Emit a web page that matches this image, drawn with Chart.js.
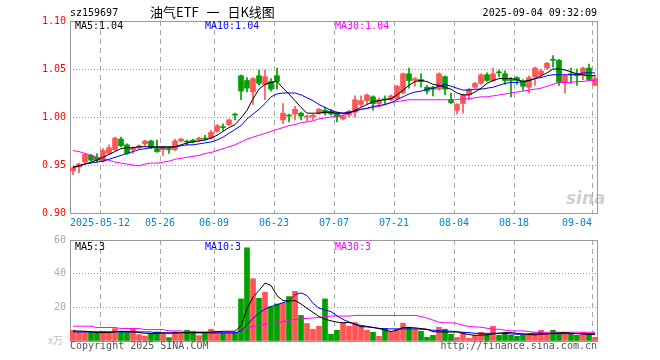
<!DOCTYPE html>
<html>
<head>
<meta charset="utf-8">
<script src="https://cdn.jsdelivr.net/npm/chart.js@4.4.1/dist/chart.umd.min.js"></script>
<style>
  body { margin: 0; background: #fff; width: 660px; height: 360px; position: relative; overflow: hidden; font-family: 'DejaVu Sans Mono', monospace; }
  .txt { position: absolute; font-size: 10px; line-height: 12px; white-space: nowrap; }
  #kChart { position: absolute; left: 0; top: 0; }
  #vChart { position: absolute; left: 0; top: 230px; }
</style>
</head>
<body>
<canvas id="kChart" width="660" height="230"></canvas>
<canvas id="vChart" width="660" height="130"></canvas>

<div class="txt" style="left:70px;top:7px;color:#000">sz159697</div>
<div class="txt" style="left:150px;top:4px;font-size:13px;line-height:16px;font-family:'Noto Sans CJK SC';word-spacing:5px;color:#000">油气ETF 一 日K线图</div>
<div class="txt" style="right:63px;top:7px;color:#000">2025-09-04 09:32:09</div>

<div class="txt" style="left:75px;top:20px;color:#000">MA5:1.04</div>
<div class="txt" style="left:205px;top:20px;color:#0000ff">MA10:1.04</div>
<div class="txt" style="left:335px;top:20px;color:#ff00ff">MA30:1.04</div>

<div class="txt" style="left:566px;top:188px;font:italic bold 17px 'DejaVu Sans';color:rgba(160,160,160,0.5)">sina</div>

<div class="txt" style="left:75px;top:241px;color:#000">MA5:3</div>
<div class="txt" style="left:205px;top:241px;color:#0000ff">MA10:3</div>
<div class="txt" style="left:335px;top:241px;color:#ff00ff">MA30:3</div>

<div class="txt" style="left:48px;top:334px;color:#bbb;font-family:'Noto Sans CJK SC'">x万</div>
<div class="txt" style="left:70px;top:340px;color:#555">Copyright 2025 SINA.COM</div>
<div class="txt" style="right:63px;top:340px;color:#555">http://finance.sina.com.cn</div>

<script>
// Trading days shown on the chart
const dates = [
  '2025-04-30',
  '2025-05-06', '2025-05-07', '2025-05-08', '2025-05-09',
  '2025-05-12', '2025-05-13', '2025-05-14', '2025-05-15', '2025-05-16',
  '2025-05-19', '2025-05-20', '2025-05-21', '2025-05-22', '2025-05-23',
  '2025-05-26', '2025-05-27', '2025-05-28', '2025-05-29', '2025-05-30',
  '2025-06-03', '2025-06-04', '2025-06-05', '2025-06-06',
  '2025-06-09', '2025-06-10', '2025-06-11', '2025-06-12', '2025-06-13',
  '2025-06-16', '2025-06-17', '2025-06-18', '2025-06-19', '2025-06-20',
  '2025-06-23', '2025-06-24', '2025-06-25', '2025-06-26', '2025-06-27',
  '2025-06-30', '2025-07-01', '2025-07-02', '2025-07-03', '2025-07-04',
  '2025-07-07', '2025-07-08', '2025-07-09', '2025-07-10', '2025-07-11',
  '2025-07-14', '2025-07-15', '2025-07-16', '2025-07-17', '2025-07-18',
  '2025-07-21', '2025-07-22', '2025-07-23', '2025-07-24', '2025-07-25',
  '2025-07-28', '2025-07-29', '2025-07-30', '2025-07-31', '2025-08-01',
  '2025-08-04', '2025-08-05', '2025-08-06', '2025-08-07', '2025-08-08',
  '2025-08-11', '2025-08-12', '2025-08-13', '2025-08-14', '2025-08-15',
  '2025-08-18', '2025-08-19', '2025-08-20', '2025-08-21', '2025-08-22',
  '2025-08-25', '2025-08-26', '2025-08-27', '2025-08-28', '2025-08-29',
  '2025-09-01', '2025-09-02', '2025-09-03', '2025-09-04'
];

const tickDates = ['2025-05-12', '2025-05-26', '2025-06-09', '2025-06-23', '2025-07-07',
                   '2025-07-21', '2025-08-04', '2025-08-18', '2025-09-04'];
const priceTicks = [0.90, 0.95, 1.00, 1.05, 1.10];
const volumeTicks = [0, 20, 40, 60];

const opens = [0.944,0.948,0.953,0.960,0.958,0.954,0.962,0.966,0.977,0.971,
  0.966,0.968,0.972,0.975,0.967,0.966,0.967,0.966,0.975,0.975,
  0.976,0.976,0.978,0.978,0.985,0.990,0.992,1.003,1.043,1.038,
  1.026,1.043,1.034,1.037,1.043,0.997,1.002,1.003,1.004,1.000,
  1.000,1.004,1.007,1.006,1.004,0.998,1.002,1.005,1.013,1.017,
  1.021,1.014,1.019,1.018,1.019,1.025,1.045,1.038,1.039,1.031,
  1.031,1.029,1.042,1.018,1.007,1.014,1.023,1.031,1.035,1.044,
  1.038,1.047,1.045,1.039,1.041,1.037,1.031,1.042,1.044,1.051,
  1.060,1.059,1.036,1.045,1.045,1.043,1.051,1.033];

const highs = [0.948,0.952,0.962,0.961,0.962,0.967,0.971,0.979,0.979,0.972,
  0.969,0.971,0.976,0.976,0.976,0.969,0.968,0.977,0.978,0.976,
  0.977,0.979,0.981,0.986,0.992,0.993,0.998,1.004,1.044,1.041,
  1.041,1.049,1.049,1.040,1.051,1.014,1.003,1.011,1.005,1.002,
  1.003,1.009,1.010,1.008,1.005,1.002,1.007,1.022,1.022,1.024,
  1.022,1.020,1.022,1.023,1.033,1.046,1.051,1.041,1.045,1.033,
  1.032,1.046,1.043,1.025,1.014,1.024,1.030,1.036,1.045,1.046,
  1.051,1.049,1.048,1.041,1.042,1.039,1.043,1.052,1.050,1.057,
  1.064,1.060,1.044,1.051,1.050,1.052,1.055,1.044];

const lows = [0.940,0.942,0.952,0.954,0.953,0.953,0.961,0.965,0.969,0.961,
  0.962,0.967,0.970,0.967,0.963,0.960,0.962,0.965,0.974,0.971,
  0.973,0.975,0.976,0.977,0.984,0.986,0.991,0.997,1.018,1.026,
  1.013,1.033,1.018,1.027,1.029,0.993,0.995,0.997,0.997,0.996,
  0.997,1.003,1.002,1.002,0.995,0.997,1.000,1.000,1.011,1.014,
  1.007,1.012,1.014,1.017,1.018,1.024,1.030,1.032,1.031,1.024,
  1.022,1.028,1.023,1.014,1.003,1.004,1.018,1.030,1.034,1.037,
  1.037,1.042,1.034,1.021,1.034,1.028,1.025,1.033,1.041,1.050,
  1.052,1.033,1.025,1.035,1.033,1.039,1.038,1.033];

const closes = [0.947,0.951,0.961,0.955,0.955,0.965,0.968,0.978,0.970,0.962,
  0.968,0.970,0.975,0.968,0.964,0.968,0.966,0.975,0.977,0.974,
  0.974,0.978,0.977,0.984,0.991,0.989,0.997,1.002,1.027,1.030,
  1.040,1.035,1.042,1.029,1.037,1.004,1.001,1.008,1.001,1.001,
  1.002,1.008,1.004,1.003,1.000,1.001,1.006,1.018,1.017,1.023,
  1.014,1.018,1.018,1.022,1.032,1.045,1.038,1.040,1.037,1.027,
  1.029,1.045,1.029,1.015,1.013,1.023,1.029,1.035,1.044,1.038,
  1.045,1.046,1.038,1.038,1.038,1.032,1.041,1.051,1.048,1.056,
  1.059,1.036,1.043,1.044,1.043,1.051,1.039,1.040];

// Moving averages
const ma5 = [0.948,0.949,0.951,0.953,0.955,0.958,0.961,0.964,0.967,0.968,
  0.968,0.969,0.969,0.969,0.969,0.969,0.969,0.969,0.971,0.973,
  0.974,0.975,0.976,0.978,0.981,0.985,0.989,0.992,0.999,1.007,
  1.019,1.029,1.034,1.036,1.037,1.030,1.024,1.017,1.010,1.004,
  1.004,1.004,1.005,1.005,1.004,1.004,1.004,1.007,1.010,1.013,
  1.016,1.017,1.018,1.019,1.023,1.028,1.033,1.037,1.038,1.037,
  1.034,1.033,1.031,1.029,1.025,1.023,1.023,1.026,1.030,1.035,
  1.038,1.040,1.040,1.040,1.039,1.037,1.038,1.040,1.043,1.046,
  1.050,1.050,1.049,1.047,1.045,1.044,1.043,1.043];

const ma10 = [0.947,0.949,0.951,0.952,0.953,0.954,0.956,0.958,0.960,0.962,
  0.964,0.966,0.967,0.968,0.968,0.968,0.968,0.969,0.970,0.971,
  0.971,0.972,0.973,0.974,0.976,0.979,0.983,0.987,0.991,0.998,
  1.003,1.008,1.014,1.021,1.024,1.025,1.025,1.025,1.023,1.020,
  1.017,1.013,1.010,1.007,1.005,1.004,1.005,1.006,1.008,1.009,
  1.011,1.012,1.013,1.015,1.018,1.021,1.024,1.026,1.027,1.029,
  1.030,1.032,1.034,1.032,1.030,1.028,1.028,1.029,1.029,1.030,
  1.031,1.033,1.035,1.036,1.036,1.037,1.038,1.040,1.041,1.043,
  1.044,1.044,1.044,1.044,1.044,1.046,1.046,1.046];

const ma30 = [0.965,0.964,0.962,0.960,0.958,0.956,0.955,0.953,0.952,0.951,
  0.950,0.949,0.951,0.952,0.952,0.953,0.954,0.956,0.957,0.958,
  0.959,0.960,0.962,0.963,0.965,0.967,0.969,0.971,0.974,0.977,
  0.979,0.981,0.983,0.985,0.987,0.989,0.991,0.992,0.994,0.995,
  0.996,0.998,0.999,1.000,1.001,1.002,1.004,1.006,1.008,1.009,
  1.010,1.011,1.013,1.015,1.016,1.017,1.018,1.018,1.018,1.018,
  1.018,1.018,1.018,1.018,1.018,1.019,1.019,1.020,1.021,1.021,
  1.022,1.023,1.024,1.025,1.026,1.027,1.028,1.029,1.030,1.032,
  1.034,1.036,1.036,1.036,1.037,1.037,1.038,1.038];

// Volume, in 10k units
const volumes = [6.4,5.4,5.4,5.4,5.4,5.8,5.4,7.4,5.8,5.4,
  7.0,3.8,3.0,4.4,5.4,4.4,2.0,5.4,4.4,6.4,
  5.8,3.2,4.4,7.0,5.8,4.8,4.8,4.8,25.0,55.4,
  37.0,25.4,29.0,20.4,22.0,22.4,26.4,29.5,15.2,10.4,
  7.0,8.8,25.0,4.0,6.4,10.8,8.8,11.0,8.8,6.4,
  5.2,2.8,7.4,5.8,7.0,10.6,8.2,7.0,5.8,2.2,
  3.4,8.2,7.0,4.0,2.2,5.0,1.6,3.4,5.2,4.0,
  8.8,3.4,4.6,3.4,2.8,3.4,4.0,4.0,6.4,4.0,
  6.4,4.0,4.0,4.6,3.4,5.2,4.0,2.2];

const volMa5 = [6.0,5.9,5.8,5.5,5.0,5.0,5.0,5.5,5.8,5.6,
  5.4,5.0,4.6,4.4,4.6,4.8,4.6,4.8,5.0,5.0,
  5.0,5.0,5.0,5.2,5.5,5.8,5.8,5.8,9.0,19.0,
  26.0,30.0,34.4,33.0,27.0,24.0,23.8,24.0,22.0,19.5,
  17.0,14.5,13.0,12.0,11.2,10.8,11.0,10.0,8.5,8.4,
  8.0,7.4,6.5,5.6,6.5,8.0,8.0,7.8,7.4,7.0,
  5.5,5.4,5.3,5.3,5.4,4.5,3.8,3.4,3.5,3.7,
  4.2,4.6,5.0,5.0,4.5,4.2,3.8,3.6,4.0,4.2,
  4.6,4.8,5.0,4.6,4.4,4.2,3.9,3.8];

const volMa10 = [5.4,5.4,5.4,5.4,5.4,5.4,5.4,5.4,5.4,5.4,
  5.4,5.4,5.4,5.4,4.8,4.8,4.8,4.8,4.8,4.8,
  4.8,4.8,4.8,4.8,4.8,4.8,4.8,4.8,6.0,9.5,
  13.5,16.5,19.0,20.5,21.5,22.8,23.6,27.5,28.6,27.0,
  22.4,19.5,18.5,17.4,15.0,12.8,11.3,10.0,9.3,8.7,
  8.1,7.5,7.3,7.2,7.2,7.2,7.2,7.2,7.0,6.8,
  6.4,6.2,6.0,5.8,5.5,5.2,5.0,4.6,4.5,4.6,
  4.6,4.6,4.5,4.2,4.0,4.0,4.3,4.6,4.6,4.5,
  4.4,4.4,4.4,4.4,4.4,4.4,4.4,4.4];

const volMa30 = [8.8,8.8,8.8,8.8,8.0,8.0,8.0,8.0,7.4,7.4,
  7.4,7.4,6.8,6.8,6.8,6.8,6.0,6.0,6.0,5.4,
  5.4,5.4,5.4,5.4,5.4,5.0,5.0,5.0,5.8,8.0,
  8.6,9.4,10.0,10.4,10.8,11.6,12.3,12.8,13.1,13.4,
  13.7,14.0,14.4,14.8,14.8,14.8,14.8,15.2,15.2,15.2,
  15.2,15.2,15.2,15.2,15.2,15.2,15.2,15.2,14.6,13.6,
  12.4,11.2,10.8,10.8,10.4,9.4,8.6,8.4,8.2,7.6,
  7.0,7.0,6.4,6.0,6.0,6.0,5.6,5.2,5.2,5.2,
  5.2,5.2,5.2,5.2,5.2,5.2,5.2,5.2];

const UP = '#ff5555';
const DOWN = '#00a000';
const GRID = '#a8a8a8';
const monoFont = { family: "'DejaVu Sans Mono', monospace", size: 10 };

const candleColors = dates.map((d, i) => closes[i] >= opens[i] ? UP : DOWN);
const bodies = dates.map((d, i) => [opens[i], closes[i]]);
const wicks = dates.map((d, i) => [lows[i], highs[i]]);

// Plot frame in solid grey
const framePlugin = {
    id: 'frame',
    beforeDatasetsDraw(chart) {
        const { ctx, chartArea: a } = chart;
        ctx.save();
        ctx.strokeStyle = '#999';
        ctx.lineWidth = 1;
        ctx.strokeRect(a.left + 0.5, a.top + 0.5, a.right - a.left - 1, a.bottom - a.top);
        ctx.restore();
    }
};

function maLine(data, color) {
    return {
        type: 'line',
        data: data,
        borderColor: color,
        borderWidth: 1,
        pointRadius: 0,
        tension: 0,
        order: 0,
    };
}

// Vertical dashed lines only at the labelled dates
function xScale(showLabels) {
    return {
        ticks: {
            display: showLabels,
            autoSkip: false,
            maxRotation: 0,
            minRotation: 0,
            color: '#0a80d0',
            font: monoFont,
            padding: 4,
            labelOffset: -3,
            callback: (v, i) => {
                const d = dates[i];
                if (!tickDates.includes(d)) return '';
                if (d === tickDates[0]) return d;
                if (d === tickDates[tickDates.length - 1]) return d.slice(5) + '     ';
                return d.slice(5);
            }
        },
        grid: {
            offset: true,
            drawTicks: false,
            color: ctx => tickDates.includes(dates[ctx.index]) ? GRID : 'rgba(0,0,0,0)',
        },
        border: { display: false, dash: [5, 4] },
        afterFit: s => { s.height = showLabels ? 17 : 19; }
    };
}

new Chart(document.getElementById('kChart'), {
    type: 'bar',
    data: {
        labels: dates,
        datasets: [
            maLine(ma5, '#000000'),
            maLine(ma10, '#0000ff'),
            maLine(ma30, '#ff00ff'),
            {
                data: bodies,
                backgroundColor: candleColors,
                barThickness: 5,
                minBarLength: 1,
                grouped: false,
                order: 1,
            },
            {
                data: wicks,
                backgroundColor: candleColors,
                barThickness: 1,
                grouped: false,
                order: 2,
            }
        ]
    },
    options: {
        responsive: false,
        animation: false,
        events: [],
        layout: { padding: { left: 0, right: 62, top: 21, bottom: 0 } },
        plugins: {
            legend: { display: false },
            tooltip: { enabled: false }
        },
        scales: {
            x: xScale(true),
            y: {
                min: priceTicks[0],
                max: priceTicks[priceTicks.length - 1],
                afterBuildTicks: s => { s.ticks = priceTicks.map(v => ({ value: v })); },
                ticks: {
                    color: '#ff0000',
                    font: monoFont,
                    padding: 4,
                    callback: v => v.toFixed(2)
                },
                grid: {
                    drawTicks: false,
                    color: ctx => (ctx.tick && (ctx.tick.value === priceTicks[0] || ctx.tick.value === priceTicks[priceTicks.length - 1])) ? 'rgba(0,0,0,0)' : '#999',
                },
                border: { display: false, dash: [1, 2] },
                afterFit: s => { s.width = 70; }
            }
        }
    },
    plugins: [framePlugin]
});

new Chart(document.getElementById('vChart'), {
    type: 'bar',
    data: {
        labels: dates,
        datasets: [
            maLine(volMa5, '#000000'),
            maLine(volMa10, '#0000ff'),
            maLine(volMa30, '#ff00ff'),
            {
                data: volumes,
                backgroundColor: candleColors,
                barThickness: 5,
                grouped: false,
                order: 1,
            }
        ]
    },
    options: {
        responsive: false,
        animation: false,
        events: [],
        layout: { padding: { left: 0, right: 62, top: 10, bottom: 0 } },
        plugins: {
            legend: { display: false },
            tooltip: { enabled: false }
        },
        scales: {
            x: xScale(false),
            y: {
                min: volumeTicks[0],
                max: volumeTicks[volumeTicks.length - 1],
                afterBuildTicks: s => { s.ticks = volumeTicks.map(v => ({ value: v })); },
                ticks: {
                    color: '#aaa',
                    font: monoFont,
                    padding: 4,
                    callback: v => v === 0 ? '' : String(v)
                },
                grid: {
                    drawTicks: false,
                    color: ctx => (ctx.tick && (ctx.tick.value === 0 || ctx.tick.value === 60)) ? 'rgba(0,0,0,0)' : '#999',
                },
                border: { display: false, dash: [1, 2] },
                afterFit: s => { s.width = 70; }
            }
        }
    },
    plugins: [framePlugin]
});
</script>
</body>
</html>
